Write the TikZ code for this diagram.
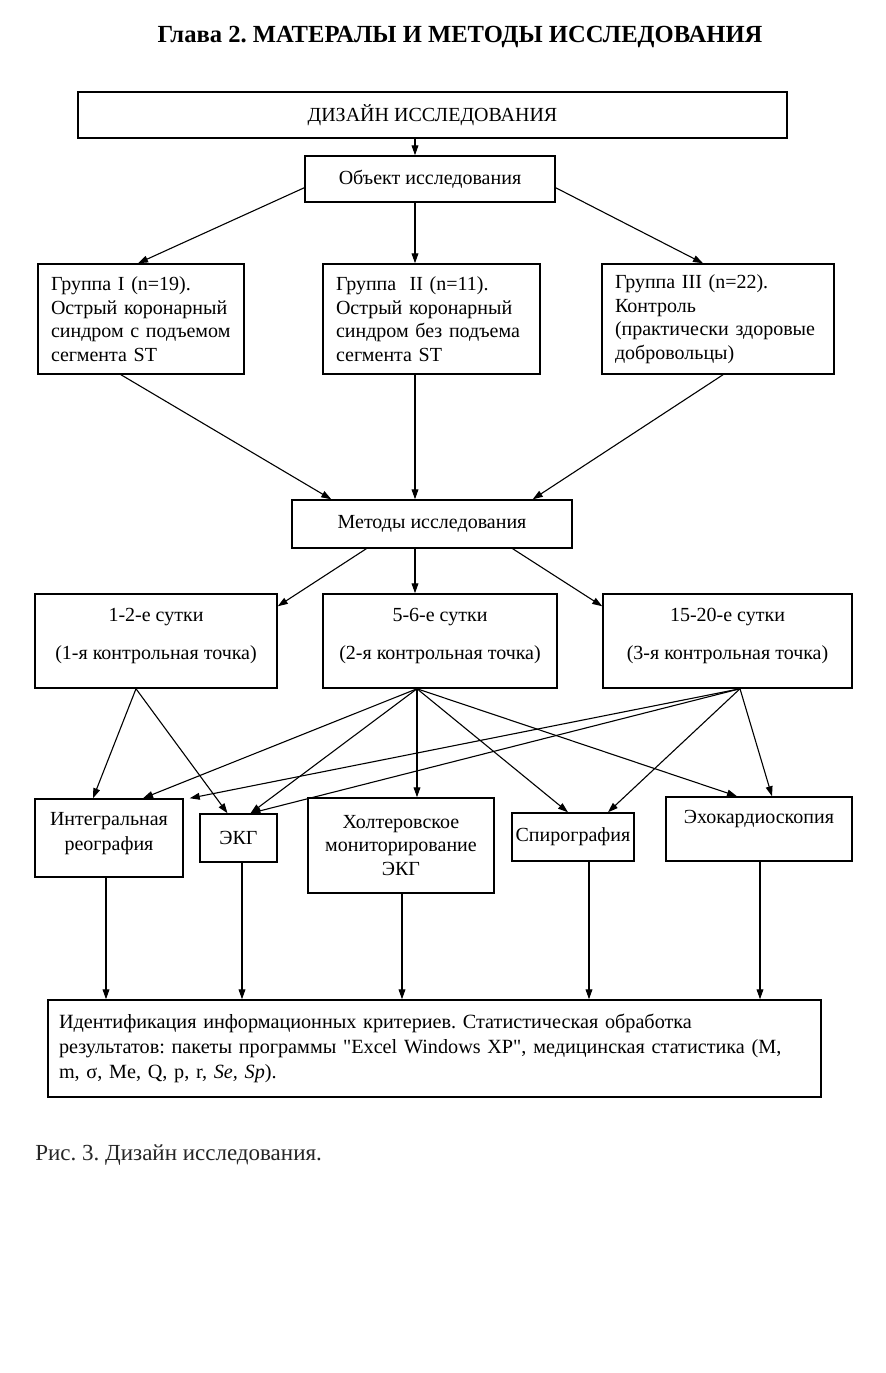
\documentclass[tikz,border=0pt]{standalone}
\usepackage{fontspec}
\setmainfont{Liberation Serif}
\newfontfamily\nomapfont[Ligatures=NoCommon]{Liberation Serif}
\usetikzlibrary{arrows.meta,calc}
\begin{document}
\frenchspacing
\begin{tikzpicture}[x=0.5pt,y=-0.5pt,
  box/.style={draw, line width=0.75pt, inner sep=0pt, align=center,
    font=\fontsize{10}{11.75}\selectfont},
  lbox/.style={draw, line width=0.75pt, inner ysep=0pt, inner xsep=6.5pt, align=left,
    font=\fontsize{10}{11.75}\selectfont},
  arr/.style={-{Triangle[length=5pt,width=3.4pt]}, line width=0.55pt},
  ttl/.style={font=\fontsize{12.3}{14}\selectfont\bfseries},
  capt/.style={font=\fontsize{11.5}{13}\selectfont, text=black!85, inner xsep=0pt}]
\useasboundingbox (0,0) rectangle (886,1373);
\fill[white] (0,0) rectangle (886,1373);
\coordinate (mid) at (415,0);

\node[ttl] (title) at (460,37) {Глава 2. МАТЕРАЛЫ И МЕТОДЫ ИССЛЕДОВАНИЯ};
\node[box, minimum width=354.5pt, minimum height=23pt] (dz) at (432.5,115) {ДИЗАЙН ИССЛЕДОВАНИЯ};
\node[box, minimum width=125pt, minimum height=23pt] (obj) at (430,179) {Объект исследования};

\node[lbox, text width=90pt, minimum height=55pt] (g1) at (141,319)
  {Группа I (n=19).\\Острый коронарный\\синдром с подъемом\\сегмента ST};
\node[lbox, text width=95.5pt, minimum height=55pt] (g2) at (431.5,319)
  {Группа\ \ II (n=11).\\Острый коронарный\\синдром без подъема\\сегмента ST};
\node[lbox, text width=103pt, minimum height=55pt] (g3) at (718,319)
  {Группа III (n=22).\\Контроль\\(практически здоровые\\добровольцы)};

\node[box, minimum width=140pt, minimum height=24pt] (met) at (432,524) {Методы исследования};

\node[box, minimum width=121pt, minimum height=47pt] (d1) at (156,641)
  {1-2-е сутки\\[7.25pt](1-я контрольная точка)\\[-4.75pt]\mbox{}};
\node[box, minimum width=117pt, minimum height=47pt] (d2) at (440,641)
  {5-6-е сутки\\[7.25pt](2-я контрольная точка)\\[-4.75pt]\mbox{}};
\node[box, minimum width=124.5pt, minimum height=47pt] (d3) at (727.5,641)
  {15-20-е сутки\\[7.25pt](3-я контрольная точка)\\[-4.75pt]\mbox{}};

\node[box, minimum width=74pt, minimum height=39pt] (integ) at (109,838)
  {Интегральная\\[0.75pt]реография\\[-4.75pt]\mbox{}};
\node[box, minimum width=38.5pt, minimum height=24pt] (ekg) at (238.5,838) {ЭКГ};
\node[box, minimum width=93pt, minimum height=47.5pt] (holt) at (401,845.5)
  {Холтеровское\\мониторирование\\ЭКГ};
\node[box, minimum width=61pt, minimum height=24pt] (spiro) at (573,837) {Спирография};
\node[box, minimum width=93pt, minimum height=32pt] (echo) at (759,829)
  {Эхокардиоскопия\\\mbox{}};

\node[lbox, inner xsep=5.5pt, text width=375.5pt, minimum height=48.5pt,
  font=\fontsize{10.1}{12.5}\selectfont] (fin) at (434.5,1048.5)
  {Идентификация информационных критериев. Статистическая обработка\\
   результатов: пакеты программы {\nomapfont"}Excel Windows XP{\nomapfont"}, медицинская статистика (M,\\
   m, σ, Me, Q, p, r, \textit{Se, Sp}).};

\node[capt, anchor=west] (cap) at (35,1155) {Рис. 3. Дизайн исследования.};

% top connectors
\draw[arr] (dz.south -| mid) -- (obj.north -| mid);
\draw[arr] ([yshift=7.5pt]obj.south west) -- ([xshift=-1.5pt]g1.north);
\draw[arr] (obj.south -| mid) -- (g2.north -| mid);
\draw[arr] ([yshift=7.5pt]obj.south east) -- ([xshift=-7.5pt]g3.north);

\draw[arr] ([xshift=-10pt]g1.south) -- ([xshift=20pt]met.north west);
\draw[arr] (g2.south -| mid) -- (met.north -| mid);
\draw[arr] ([xshift=2.5pt]g3.south) -- ([xshift=-20pt]met.north east);

\draw[arr] ([xshift=37.5pt]met.south west) -- ([yshift=-6.5pt]d1.north east);
\draw[arr] (met.south -| mid) -- (d2.north -| mid);
\draw[arr] ([xshift=-30pt]met.south east) -- ([yshift=-6.5pt]d3.north west);

% lower fan
\coordinate (a1) at ([xshift=-10pt]d1.south);
\coordinate (a2) at ([xshift=-11.5pt]d2.south);
\coordinate (a3) at ([xshift=6.25pt]d3.south);
\draw[arr] (a1) -- ([xshift=-8pt]integ.north);
\draw[arr] (a1) -- ([xshift=-5.5pt]ekg.north);
\draw[arr] (a2) -- ([xshift=17pt]integ.north);
\draw[arr] (a2) -- ([xshift=6pt]ekg.north);
\draw[arr] (a2) -- ([xshift=8pt]holt.north);
\draw[arr] (a2) -- ([xshift=-2.5pt]spiro.north);
\draw[arr] (a2) -- ([xshift=-11pt]echo.north);
\draw[arr] (a3) -- ([xshift=3pt]integ.north east);
\draw[arr] (a3) -- ([xshift=6pt]ekg.north);
\draw[arr] (a3) -- ([xshift=17.5pt]spiro.north);
\draw[arr] (a3) -- ([xshift=6.5pt]echo.north);

% down to final box
\coordinate (b1) at ([xshift=-1.5pt]integ.south);
\coordinate (b2) at ([xshift=1.75pt]ekg.south);
\coordinate (b3) at ([xshift=0.5pt]holt.south);
\coordinate (b4) at ([xshift=8pt]spiro.south);
\coordinate (b5) at ([xshift=0.5pt]echo.south);
\foreach \b in {b1,b2,b3,b4,b5}
  \draw[arr] (\b) -- (\b |- fin.north);
\end{tikzpicture}
\end{document}
